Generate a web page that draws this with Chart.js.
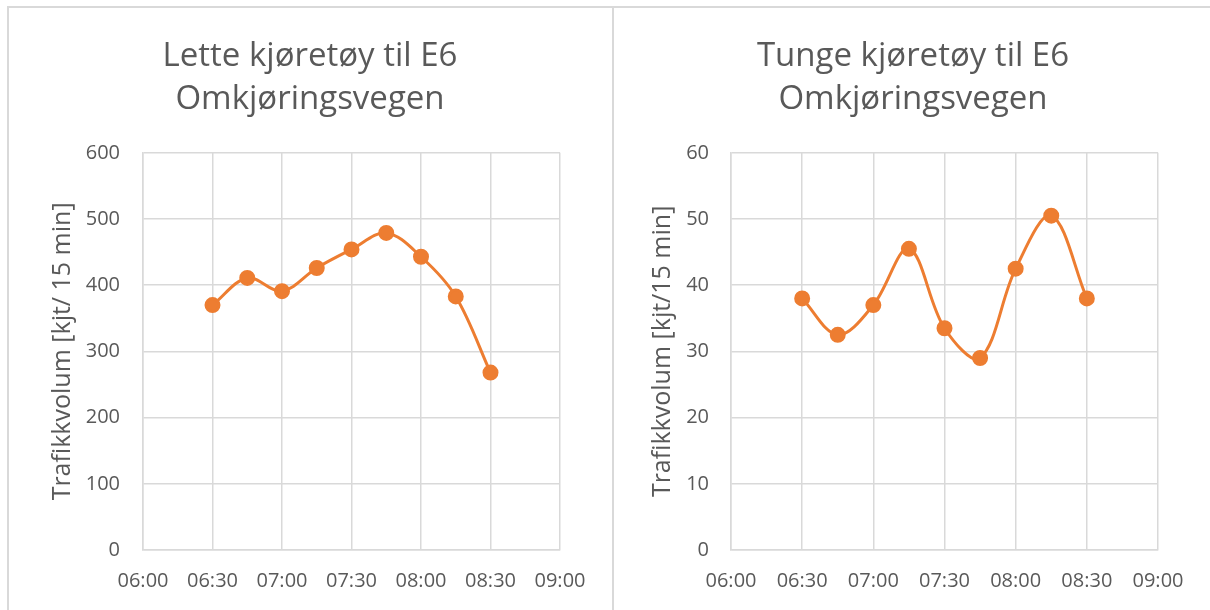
<!DOCTYPE html>
<html>
<head>
<meta charset="utf-8">
<script src="https://cdn.jsdelivr.net/npm/chart.js@4.4.1/dist/chart.umd.min.js"></script>
<style>
    body { margin: 0; background: #fff; width: 1210px; height: 610px; overflow: hidden; position: relative; }
    .panel { position: absolute; top: 6px; height: 610px; border: 2px solid #d9d9d9; box-sizing: border-box; background: #fff; }
    #left { left: 7px; width: 607px; }
    #right { left: 612px; width: 610px; }
    .panel canvas { position: absolute; left: 0; top: 0; }
</style>
</head>
<body>
<div class="panel" id="left"><canvas id="lightChart" width="603" height="604"></canvas></div>
<div class="panel" id="right"><canvas id="heavyChart" width="596" height="604"></canvas></div>

<script>
// tidspunkt og trafikkvolum per 15 min
const times = ['06:30', '06:45', '07:00', '07:15', '07:30', '07:45', '08:00', '08:15', '08:30'];
const lightVolume = [370, 411, 391, 426, 454, 479, 443, 383, 268];
const heavyVolume = [38, 32.5, 37, 45.5, 33.5, 29, 42.5, 50.5, 38];

const xStart = '06:00';
const xEnd = '09:00';
const xStep = 30; // minutes

const orange = '#ED7D31';
const textGrey = '#595959';
const gridGrey = '#d9d9d9';

function toMinutes(t) {
    const [h, m] = t.split(':').map(Number);
    return h * 60 + m;
}

function fmtTime(v) {
    const h = Math.floor(v / 60);
    const m = v % 60;
    return String(h).padStart(2, '0') + ':' + String(m).padStart(2, '0');
}

// cfg: padLeft = layout padding (keeps the title centred over the panel),
// yWidth = width of the y axis box, titlePad = offset of the rotated axis title
function makeChart(id, titleLines, values, yMax, yStep, yTitle, cfg) {
    const ctx = document.getElementById(id).getContext('2d');
    return new Chart(ctx, {
        type: 'line',
        data: {
            datasets: [{
                data: times.map((t, i) => ({ x: toMinutes(t), y: values[i] })),
                borderColor: orange,
                backgroundColor: orange,
                borderWidth: 3,
                pointRadius: 6.5,
                pointBackgroundColor: orange,
                pointBorderColor: orange,
                tension: 0.35,
                fill: false
            }]
        },
        options: {
            responsive: false,
            animation: false,
            layout: { padding: { left: cfg.padLeft, right: 52, top: 0, bottom: 0 } },
            plugins: {
                legend: { display: false },
                tooltip: { enabled: false },
                title: {
                    display: true,
                    text: titleLines,
                    color: textGrey,
                    font: { family: 'Open Sans', size: 33, weight: 'normal', lineHeight: 1.3 },
                    padding: { top: 27, bottom: 32 }
                }
            },
            scales: {
                x: {
                    type: 'linear',
                    min: toMinutes(xStart),
                    max: toMinutes(xEnd),
                    afterFit: s => { s.height = 62; },
                    ticks: {
                        stepSize: xStep,
                        color: textGrey,
                        padding: 19,
                        font: { family: 'Open Sans', size: 20 },
                        callback: v => fmtTime(v)
                    },
                    grid: { color: gridGrey, lineWidth: 1.5, drawTicks: false },
                    border: { color: gridGrey, width: 1.5 }
                },
                y: {
                    min: 0,
                    max: yMax,
                    afterFit: s => { s.width = cfg.yWidth; },
                    ticks: {
                        stepSize: yStep,
                        color: textGrey,
                        padding: cfg.tickPad,
                        font: { family: 'Open Sans', size: 20 }
                    },
                    grid: { color: gridGrey, lineWidth: 1.5, drawTicks: false },
                    border: { color: gridGrey, width: 1.5 },
                    title: {
                        display: true,
                        text: yTitle,
                        color: textGrey,
                        font: { family: 'Open Sans', size: 25 },
                        padding: { top: cfg.titlePad, bottom: 0 }
                    }
                }
            }
        }
    });
}

makeChart('lightChart', ['Lette kjøretøy til E6', 'Omkjøringsvegen'], lightVolume, 600, 100,
    'Trafikkvolum [kjt/ 15 min]', { padLeft: 51, yWidth: 83, tickPad: 23, titlePad: -12 });
makeChart('heavyChart', ['Tunge kjøretøy til E6', 'Omkjøringsvegen'], heavyVolume, 60, 10,
    'Trafikkvolum [kjt/15 min]', { padLeft: 54, yWidth: 63, tickPad: 22, titlePad: -20 });
</script>
</body>
</html>
